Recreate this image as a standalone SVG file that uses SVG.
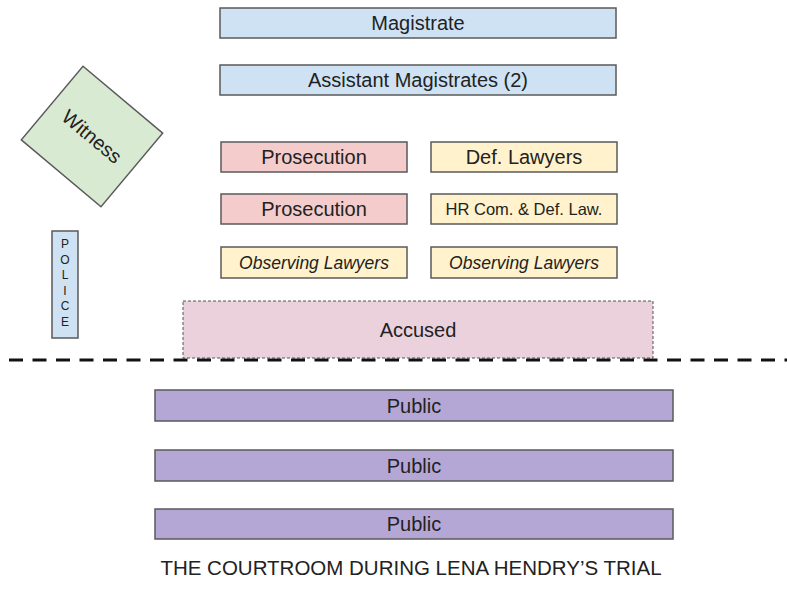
<svg xmlns="http://www.w3.org/2000/svg" width="787" height="595" viewBox="0 0 787 595">
<style>
text{font-family:"Liberation Sans",Arial,sans-serif;fill:#222;text-anchor:middle;dominant-baseline:central}
.b{stroke:#5a5a5a;stroke-width:1.5}
.blue{fill:#cfe2f3}.pink{fill:#f4cccc}.yel{fill:#fff2cc}.pub{fill:#b4a7d6}.grn{fill:#d9ead3}.acc{fill:#ead1dc}
.t16{font-size:20px}.t15{font-size:20px}.t12{font-size:16.5px}.it{font-size:17.5px;font-style:italic}
</style>
<rect width="787" height="595" fill="#fff"/>
<g id="magistrate"><rect class="b blue" x="220" y="8" width="396" height="30"/><text class="t16" x="418" y="23">Magistrate</text></g>
<g id="assistant-magistrates"><rect class="b blue" x="220" y="65" width="396" height="30"/><text class="t16" x="418" y="80">Assistant Magistrates (2)</text></g>
<g id="witness" transform="translate(92,136.5) rotate(40)"><rect class="b grn" x="-52" y="-48" width="104" height="96"/><text class="t15" x="0" y="0">Witness</text></g>
<g id="prosecution-1"><rect class="b pink" x="221" y="142" width="186" height="30"/><text class="t16" x="314" y="157">Prosecution</text></g>
<g id="def-lawyers"><rect class="b yel" x="431" y="142" width="186" height="30"/><text class="t16" x="524" y="157">Def. Lawyers</text></g>
<g id="prosecution-2"><rect class="b pink" x="221" y="194" width="186" height="30"/><text class="t16" x="314" y="209">Prosecution</text></g>
<g id="hr-com"><rect class="b yel" x="431" y="194" width="186" height="30"/><text class="t12" x="524" y="209">HR Com. &amp; Def. Law.</text></g>
<g id="observing-1"><rect class="b yel" x="221" y="247" width="186" height="31"/><text class="it" x="314" y="262.5">Observing Lawyers</text></g>
<g id="observing-2"><rect class="b yel" x="431" y="247" width="186" height="31"/><text class="it" x="524" y="262.5">Observing Lawyers</text></g>
<g id="police"><rect class="b blue" x="52" y="231" width="26" height="107"/>
<g style="font-size:12px"><text x="65" y="244">P</text><text x="65" y="259.5">O</text><text x="65" y="275">L</text><text x="65" y="290.5">I</text><text x="65" y="306">C</text><text x="65" y="321.5">E</text></g></g>
<g id="accused"><rect class="acc" x="183" y="301" width="470" height="57" stroke="#555" stroke-width="1" stroke-dasharray="3,2"/><text class="t16" x="418" y="330">Accused</text></g>
<g id="divider"><line x1="9" y1="360" x2="787" y2="360" stroke="#111" stroke-width="3" stroke-dasharray="14,9.5"/></g>
<g id="public-1"><rect class="b pub" x="155" y="390" width="518" height="31"/><text class="t15" x="414" y="405.5">Public</text></g>
<g id="public-2"><rect class="b pub" x="155" y="450" width="518" height="31"/><text class="t15" x="414" y="465.5">Public</text></g>
<g id="public-3"><rect class="b pub" x="155" y="509" width="518" height="30"/><text class="t15" x="414" y="524">Public</text></g>
<text x="411" y="567" style="font-size:20.5px">THE COURTROOM DURING LENA HENDRY’S TRIAL</text>
</svg>
